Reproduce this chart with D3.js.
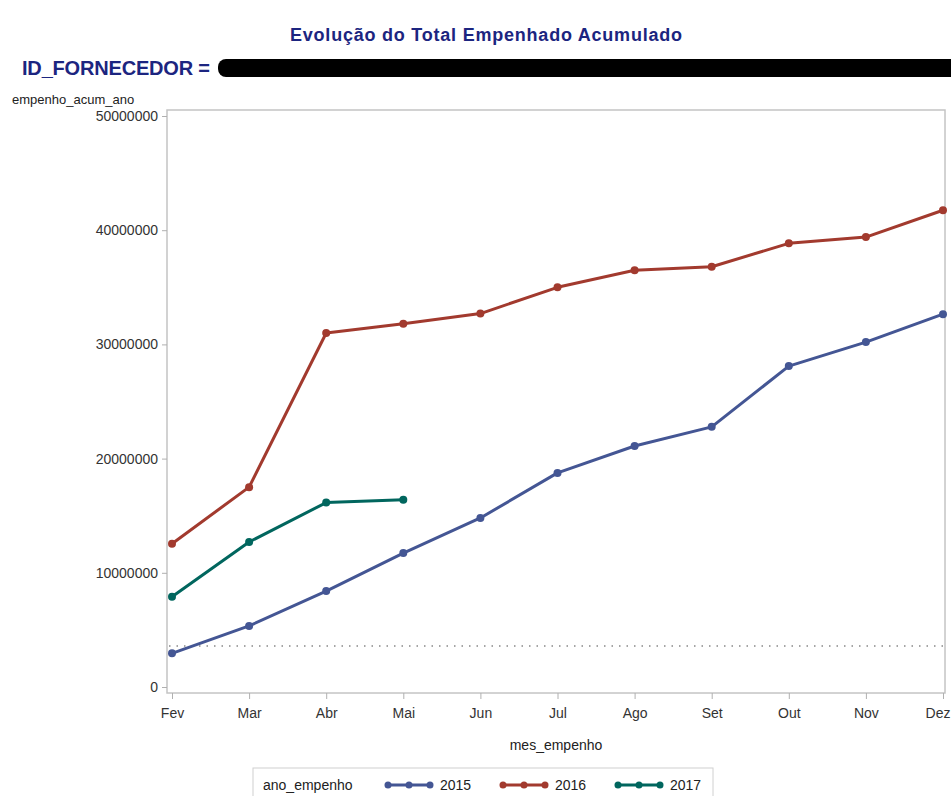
<!DOCTYPE html>
<html>
<head>
<meta charset="utf-8">
<script src="https://cdn.jsdelivr.net/npm/d3@7"></script>
<style>
  body { margin: 0; background: #fff; }
  text { font-family: "Liberation Sans", Arial, sans-serif; }
</style>
</head>
<body>
<svg id="chart" width="951" height="796"></svg>
<script>
const MONTHS = ["Fev", "Mar", "Abr", "Mai", "Jun", "Jul", "Ago", "Set", "Out", "Nov", "Dez"];
const YEARS = ["2015", "2016", "2017"];
const EMP_2015 = [2950000, 5350000, 8400000, 11730000, 14800000, 18750000, 21100000, 22780000, 28100000, 30200000, 32650000];
const EMP_2016 = [12550000, 17500000, 31000000, 31800000, 32700000, 35000000, 36500000, 36800000, 38850000, 39400000, 41750000];
const EMP_2017 = [7900000, 12700000, 16150000, 16400000];
const Y_TICKS = [0, 10000000, 20000000, 30000000, 40000000, 50000000];
const REF_LINE = 3600000;

const colors = { "2015": "#445694", "2016": "#A23A2E", "2017": "#01665E" };
const seriesData = [
  { year: "2015", values: EMP_2015 },
  { year: "2016", values: EMP_2016 },
  { year: "2017", values: EMP_2017 },
];

const svg = d3.select("#chart");

// titles
svg.append("text")
  .attr("x", 486).attr("y", 41)
  .attr("text-anchor", "middle")
  .style("font-size", "18px").style("font-weight", "bold")
  .style("fill", "#1c2580")
  .attr("textLength", 392)
  .text("Evolução do Total Empenhado Acumulado");

svg.append("text")
  .attr("x", 22).attr("y", 75)
  .style("font-size", "20px").style("font-weight", "bold")
  .style("fill", "#1c2580")
  .attr("textLength", 188)
  .text("ID_FORNECEDOR =");

// redacted id
svg.append("rect")
  .attr("x", 218).attr("y", 59).attr("width", 740).attr("height", 18)
  .attr("rx", 8).style("fill", "#000");

const x = d3.scalePoint().domain(MONTHS).range([172, 943]);
const y = d3.scaleLinear().domain([0, 50000000]).range([687, 116]);

// frame
svg.append("rect")
  .attr("x", 167).attr("y", 110).attr("width", 778).attr("height", 583)
  .style("fill", "none").style("stroke", "#c4c4c4").style("stroke-width", 1.5);

// y axis
const yAxis = svg.append("g")
  .attr("transform", "translate(167,0)")
  .call(d3.axisLeft(y).tickValues(Y_TICKS).tickFormat(d3.format("d")).tickSize(5).tickPadding(4));
yAxis.select(".domain").remove();
yAxis.selectAll("line").style("stroke", "#b0b0b0");
yAxis.selectAll("text").style("font-size", "14px").style("fill", "#333")
  .style("font-family", "Liberation Sans, Arial, sans-serif");

// x axis
const xAxis = svg.append("g")
  .attr("transform", "translate(0,693)")
  .call(d3.axisBottom(x).tickSize(6).tickPadding(9));
xAxis.select(".domain").remove();
xAxis.selectAll("line").style("stroke", "#b0b0b0");
xAxis.selectAll("text").style("font-size", "14px").style("fill", "#333")
  .style("font-family", "Liberation Sans, Arial, sans-serif");
// last label sits at the window edge
xAxis.selectAll("text").filter((d) => d === "Dez")
  .attr("text-anchor", "end").attr("x", 950 - x("Dez"));

// axis labels
svg.append("text")
  .attr("x", 12).attr("y", 104)
  .style("font-size", "13px").style("fill", "#222")
  .text("empenho_acum_ano");

svg.append("text")
  .attr("x", 556).attr("y", 750)
  .attr("text-anchor", "middle")
  .style("font-size", "14px").style("fill", "#222")
  .text("mes_empenho");

// reference line
svg.append("line")
  .attr("x1", 169).attr("x2", 943)
  .attr("y1", y(REF_LINE)).attr("y2", y(REF_LINE))
  .style("stroke", "#888").style("stroke-width", 1.5)
  .style("stroke-dasharray", "1.5,6");

// series
const line = d3.line()
  .x((d, i) => x(MONTHS[i]))
  .y((d) => y(d));

const groups = svg.selectAll(".series")
  .data(seriesData)
  .enter()
  .append("g")
  .classed("series", true);

groups.append("path")
  .attr("d", (d) => line(d.values))
  .style("fill", "none")
  .style("stroke", (d) => colors[d.year])
  .style("stroke-width", 3)
  .style("stroke-linejoin", "round");

groups.selectAll("circle")
  .data((d) => d.values.map((v, i) => ({ v: v, i: i, year: d.year })))
  .enter()
  .append("circle")
  .attr("cx", (d) => x(MONTHS[d.i]))
  .attr("cy", (d) => y(d.v))
  .attr("r", 4)
  .style("fill", (d) => colors[d.year]);

// legend
svg.append("rect")
  .attr("x", 253).attr("y", 768).attr("width", 460).attr("height", 40)
  .style("fill", "none").style("stroke", "#d0d0d0").style("stroke-width", 1);

svg.append("text")
  .attr("x", 263).attr("y", 790)
  .style("font-size", "14px").style("fill", "#222")
  .text("ano_empenho");

const legendX = [388, 503, 618];
const items = svg.selectAll(".legend-item")
  .data(YEARS)
  .enter()
  .append("g")
  .classed("legend-item", true)
  .attr("transform", (d, i) => `translate(${legendX[i]},785)`);

items.append("line")
  .attr("x1", 0).attr("x2", 42)
  .style("stroke", (d) => colors[d]).style("stroke-width", 3);

items.selectAll("circle")
  .data((d) => [0, 21, 42].map((cx) => ({ cx: cx, year: d })))
  .enter()
  .append("circle")
  .attr("cx", (d) => d.cx).attr("cy", 0).attr("r", 3.5)
  .style("fill", (d) => colors[d.year]);

items.append("text")
  .attr("x", 52).attr("y", 5)
  .style("font-size", "14px").style("fill", "#222")
  .text((d) => d);
</script>
</body>
</html>
